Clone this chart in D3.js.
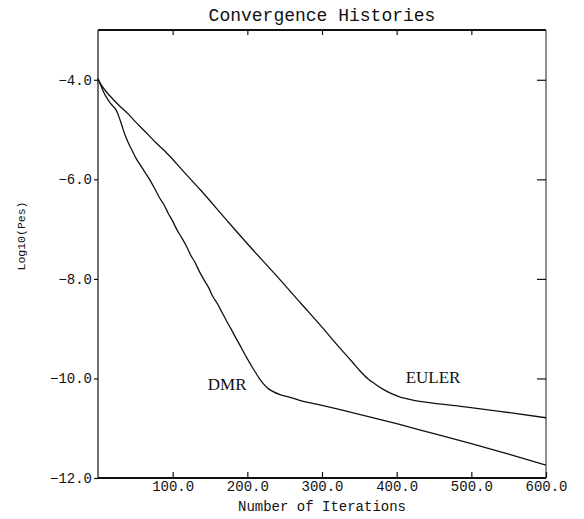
<!DOCTYPE html>
<html>
<head>
<meta charset="utf-8">
<script src="https://cdn.jsdelivr.net/npm/d3@7"></script>
<style>
  html, body { margin: 0; padding: 0; background: #fff; }
  svg { display: block; }
</style>
</head>
<body>
<svg id="chart" width="584" height="519"></svg>
<script>
// ---- data ----
const title = "Convergence Histories";
const xTitle = "Number of Iterations";
const yTitle = "Log10(Pes)";
const xTicks = [100, 200, 300, 400, 500, 600];
const yTicks = [-12, -10, -8, -6, -4];
const seriesNames = ["DMR", "EULER"];

const dmrIter = [0,4,8,12,16,20,24,28,32,36,41,46,51,57,63,69,75,82,88,94,100,106,112,118,124,130,136,142,148,154,160,166,172,178,184,190,196,201,206,211,216,221,227,234,245,257,270,300,350,400,450,500,550,600];
const dmrRes  = [-3.97,-4.12,-4.26,-4.37,-4.46,-4.53,-4.60,-4.74,-4.92,-5.10,-5.28,-5.43,-5.58,-5.72,-5.86,-6.00,-6.16,-6.36,-6.50,-6.68,-6.84,-7.02,-7.17,-7.33,-7.52,-7.67,-7.86,-8.02,-8.17,-8.36,-8.50,-8.67,-8.84,-9.00,-9.17,-9.33,-9.50,-9.63,-9.76,-9.88,-10.00,-10.10,-10.19,-10.26,-10.33,-10.38,-10.44,-10.54,-10.72,-10.91,-11.11,-11.31,-11.52,-11.74];

const eulerIter = [0,10,20,30,40,50,63,78,94,115,137,170,204,238,271,300,324,340,351,361,371,381,391,404,420,441,485,538,600];
const eulerRes  = [-4.0,-4.22,-4.39,-4.54,-4.68,-4.84,-5.04,-5.27,-5.50,-5.85,-6.21,-6.78,-7.36,-7.92,-8.48,-8.97,-9.39,-9.66,-9.85,-10.00,-10.11,-10.21,-10.29,-10.37,-10.43,-10.48,-10.56,-10.66,-10.79];

// ---- layout ----
const svg = d3.select("#chart");
const L = 98, R = 546, T = 30, B = 478;
const x = d3.scaleLinear().domain([0, 600]).range([L, R]);
const y = d3.scaleLinear().domain([-12, -3]).range([B, T]);
const mono = "'Liberation Mono', 'DejaVu Sans Mono', monospace";
const serif = "'Liberation Serif', 'DejaVu Serif', serif";
const fmt = d3.format(".1f");

// frame: heavier top/bottom, lighter sides
svg.append("line").attr("x1", L).attr("x2", R).attr("y1", T).attr("y2", T)
  .attr("stroke", "#111").attr("stroke-width", 1.8);
svg.append("line").attr("x1", L).attr("x2", R).attr("y1", B).attr("y2", B)
  .attr("stroke", "#111").attr("stroke-width", 1.8);
svg.append("line").attr("x1", L).attr("x2", L).attr("y1", T).attr("y2", B)
  .attr("stroke", "#222").attr("stroke-width", 1.3);
svg.append("line").attr("x1", R).attr("x2", R).attr("y1", T).attr("y2", B)
  .attr("stroke", "#444").attr("stroke-width", 1.2);

// bottom axis (ticks inward, labels)
const gB = svg.append("g").attr("transform", `translate(0,${B})`)
  .call(d3.axisBottom(x).tickValues(xTicks).tickSize(-6).tickPadding(3).tickFormat(fmt));
// top axis (ticks inward, no labels)
const gT = svg.append("g").attr("transform", `translate(0,${T})`)
  .call(d3.axisTop(x).tickValues(xTicks.slice(0, 5)).tickSize(-5).tickFormat(""));
// left axis (short outward ticks, labels)
const gL = svg.append("g").attr("transform", `translate(${L},0)`)
  .call(d3.axisLeft(y).tickValues(yTicks).tickSize(4).tickPadding(2).tickFormat(fmt));
// right axis (ticks inward, no labels)
const gR = svg.append("g").attr("transform", `translate(${R},0)`)
  .call(d3.axisRight(y).tickValues(yTicks.slice(1)).tickSize(-9).tickFormat(""));

[gB, gT, gL, gR].forEach(g => {
  g.select(".domain").remove();
  g.selectAll(".tick line").attr("stroke", "#111").attr("stroke-width", 1.2);
  g.selectAll(".tick text").attr("fill", "#111")
    .style("font-family", mono).style("font-size", "14px");
});

// lines
const line = d3.line().x(d => x(d[0])).y(d => y(d[1])).curve(d3.curveMonotoneX);
const dmr = dmrIter.map((v, i) => [v, dmrRes[i]]);
const euler = eulerIter.map((v, i) => [v, eulerRes[i]]);
[dmr, euler].forEach(s => {
  svg.append("path").datum(s).attr("d", line)
    .attr("fill", "none").attr("stroke", "#111").attr("stroke-width", 1.3);
});

// series labels
svg.append("text").attr("x", x(147)).attr("y", y(-10.24))
  .style("font-family", serif).style("font-size", "17px").attr("fill", "#111")
  .text(seriesNames[0]);
svg.append("text").attr("x", x(412)).attr("y", y(-10.1))
  .style("font-family", serif).style("font-size", "17px").attr("fill", "#111")
  .text(seriesNames[1]);

// titles
svg.append("text").attr("x", 322).attr("y", 21).attr("text-anchor", "middle")
  .style("font-family", mono).style("font-size", "18px").attr("fill", "#111")
  .text(title);
svg.append("text").attr("x", 322).attr("y", 511).attr("text-anchor", "middle")
  .style("font-family", mono).style("font-size", "14px").attr("fill", "#111")
  .text(xTitle);
svg.append("text").attr("transform", "translate(25,236) rotate(-90)")
  .attr("text-anchor", "middle")
  .style("font-family", mono).style("font-size", "11.5px").attr("fill", "#111")
  .text(yTitle);
</script>
</body>
</html>
